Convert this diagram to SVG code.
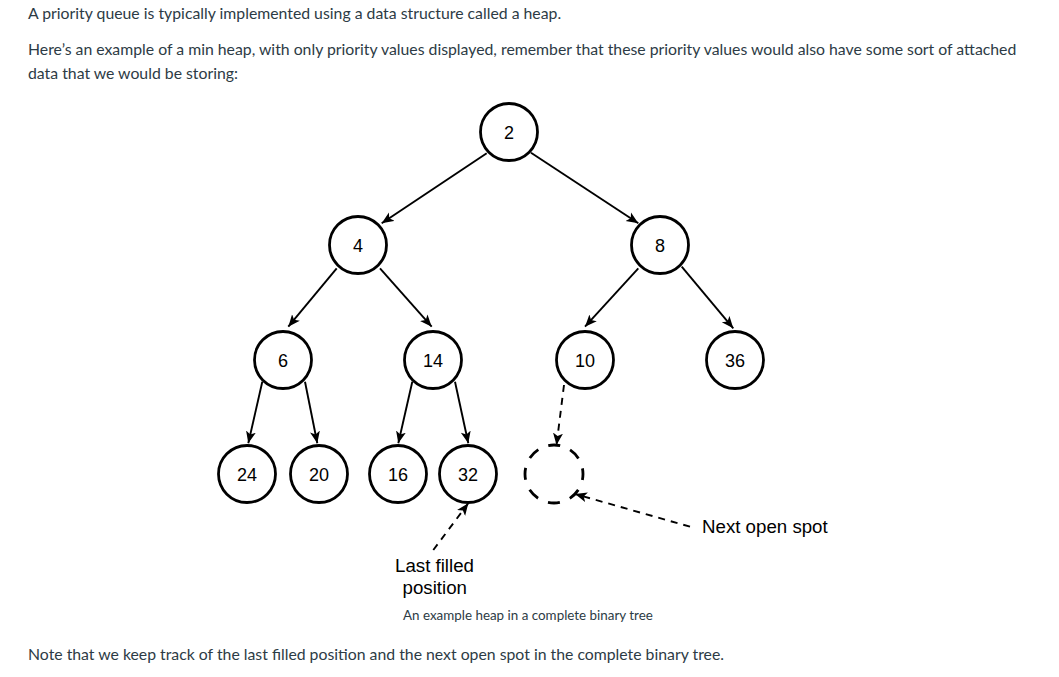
<svg xmlns="http://www.w3.org/2000/svg" width="1059" height="677" viewBox="0 0 1059 677">
<style>
.p{font-family:Lato,"Liberation Sans",sans-serif;font-size:15.8px;fill:#2d3b45}
.cap{font-family:Lato,"Liberation Sans",sans-serif;font-size:13.4px;fill:#2d3b45}
.n circle{fill:#fff;stroke:#000;stroke-width:2.8}
.n text,.lbl{font-family:Arial,"Liberation Sans",sans-serif;fill:#000}
.n text{font-size:18px;text-anchor:middle}
.lbl{font-size:18.7px}
.e{stroke:#000;stroke-width:1.9;fill:none;marker-end:url(#ah)}
.d{stroke-dasharray:7 6}
.open{fill:none;stroke:#000;stroke-width:2.8;stroke-dasharray:12 10.78;stroke-dashoffset:6}
</style>
<defs>
<marker id="ah" markerUnits="userSpaceOnUse" markerWidth="14" markerHeight="12" refX="12" refY="5.5" orient="auto">
<path d="M0,0.5 L12,5.5 L0,10.5 L3,5.5 Z" fill="#000"/>
</marker>
</defs>
<rect width="1059" height="677" fill="#fff"/>
<text class="p" x="28" y="19">A priority queue is typically implemented using a data structure called a heap.</text>
<text class="p" x="28" y="55">Here’s an example of a min heap, with only priority values displayed, remember that these priority values would also have some sort of attached</text>
<text class="p" x="28" y="79">data that we would be storing:</text>
<g id="connectors">
<line class="e" x1="486.7" y1="153.3" x2="381.7" y2="223.3"/>
<line class="e" x1="531" y1="152.7" x2="638.3" y2="223.3"/>
<line class="e" x1="336.7" y1="268.3" x2="288.3" y2="326.7"/>
<line class="e" x1="380" y1="268.3" x2="431.7" y2="326.7"/>
<line class="e" x1="638.3" y1="268.3" x2="585" y2="326.7"/>
<line class="e" x1="681.7" y1="266.7" x2="733.3" y2="328.3"/>
<line class="e" x1="262.3" y1="381.7" x2="248.3" y2="443.3"/>
<line class="e" x1="305" y1="381.7" x2="317.3" y2="443.3"/>
<line class="e" x1="412.3" y1="381.7" x2="398.3" y2="443.3"/>
<line class="e" x1="455" y1="381.7" x2="468.3" y2="443.3"/>
<line class="e d" x1="564" y1="385" x2="556.5" y2="445"/>
<line class="e d" x1="433.3" y1="550" x2="468.3" y2="503.3"/>
<line class="e d" x1="690" y1="526.7" x2="575" y2="494"/>
</g>
<g id="n2" class="n"><circle cx="509" cy="132" r="28.5"/><text x="509" y="138.5">2</text></g>
<g id="n4" class="n"><circle cx="358" cy="245" r="28.5"/><text x="358" y="251.5">4</text></g>
<g id="n8" class="n"><circle cx="660" cy="245" r="28.5"/><text x="660" y="251.5">8</text></g>
<g id="n6" class="n"><circle cx="283" cy="360" r="28.5"/><text x="283" y="366.5">6</text></g>
<g id="n14" class="n"><circle cx="433" cy="360" r="28.5"/><text x="433" y="366.5">14</text></g>
<g id="n10" class="n"><circle cx="585" cy="360" r="28.5"/><text x="585" y="366.5">10</text></g>
<g id="n36" class="n"><circle cx="735" cy="360" r="28.5"/><text x="735" y="366.5">36</text></g>
<g id="n24" class="n"><circle cx="247" cy="474" r="28.5"/><text x="247" y="480.5">24</text></g>
<g id="n20" class="n"><circle cx="319" cy="474" r="28.5"/><text x="319" y="480.5">20</text></g>
<g id="n16" class="n"><circle cx="398" cy="474" r="28.5"/><text x="398" y="480.5">16</text></g>
<g id="n32" class="n"><circle cx="468" cy="474" r="28.5"/><text x="468" y="480.5">32</text></g>
<g id="open"><circle class="open" cx="554" cy="474" r="29"/></g>
<g id="label-next"><text class="lbl" x="702" y="533">Next open spot</text></g>
<g id="label-last"><text class="lbl" x="395" y="572">Last filled</text><text class="lbl" x="402.5" y="594">position</text></g>
<text class="cap" x="403" y="620">An example heap in a complete binary tree</text>
<text class="p" x="28" y="660">Note that we keep track of the last filled position and the next open spot in the complete binary tree.</text>
</svg>
